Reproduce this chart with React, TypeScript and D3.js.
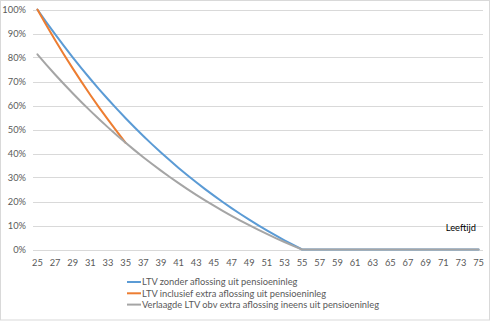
import React from "react";
import * as d3 from "d3";

const ages: number[] = d3.range(25, 76);
const yTicks = [0, 0.1, 0.2, 0.3, 0.4, 0.5, 0.6, 0.7, 0.8, 0.9, 1.0];

// LTV zonder aflossing uit pensioeninleg (ages 25..55, then 0)
const blueValues = [
  1.0, 0.9477, 0.8971, 0.8481, 0.8007, 0.7548, 0.7104, 0.6674, 0.6259, 0.5857,
  0.5469, 0.5094, 0.4731, 0.4381, 0.4042, 0.3715, 0.3399, 0.3095, 0.2801, 0.2517,
  0.2243, 0.1979, 0.1725, 0.148, 0.1243, 0.1016, 0.0797, 0.0586, 0.0383, 0.0188,
  0, 0, 0, 0, 0, 0, 0, 0, 0, 0, 0, 0, 0, 0, 0, 0, 0, 0, 0, 0, 0,
];
// LTV inclusief extra aflossing uit pensioeninleg (ages 25..35)
const orangeValues = [
  1.0, 0.9355, 0.8731, 0.8128, 0.7546, 0.6983, 0.6439, 0.5914, 0.5408, 0.4918, 0.4446,
];
// Verlaagde LTV obv extra aflossing ineens uit pensioeninleg
const grayValues = [
  0.813, 0.7705, 0.7293, 0.6895, 0.651, 0.6137, 0.5776, 0.5426, 0.5089, 0.4762,
  0.4446, 0.4141, 0.3846, 0.3562, 0.3286, 0.302, 0.2763, 0.2516, 0.2277, 0.2046,
  0.1824, 0.1609, 0.1402, 0.1203, 0.1011, 0.0826, 0.0648, 0.0476, 0.0311, 0.0153,
  0, 0, 0, 0, 0, 0, 0, 0, 0, 0, 0, 0, 0, 0, 0, 0, 0, 0, 0, 0, 0,
];

const seriesNames = [
  "LTV zonder aflossing uit pensioeninleg",
  "LTV inclusief extra aflossing uit pensioeninleg",
  "Verlaagde LTV obv extra aflossing ineens uit pensioeninleg",
];
const colors = ["#5B9BD5", "#ED7D31", "#A5A5A5"];

const W = 491;
const H = 321;
const FONT = "Lato, 'Open Sans', sans-serif";

export default function App() {
  const x = d3.scaleBand<number>().domain(ages).range([33, 483]);
  const cx = (a: number) => (x(a) as number) + x.bandwidth() / 2;
  const y = d3.scaleLinear().domain([0, 1]).range([249.5, 9.5]);

  const line = d3
    .line<number>()
    .x((_, i) => cx(ages[i]))
    .y((d) => y(d));

  const series = [blueValues, orangeValues, grayValues];

  return (
    <svg
      width={W}
      height={H}
      style={{ position: "absolute", left: 0, top: 0, background: "#fff" }}
      fontFamily={FONT}
    >
      <rect x={0.5} y={0.5} width={489} height={319.5} fill="#fff" stroke="#d9d9d9" />
      {yTicks.map((t) => (
        <g key={t}>
          <line x1={33} x2={483} y1={Math.round(y(t)) + 0.5} y2={Math.round(y(t)) + 0.5} stroke="#d9d9d9" strokeWidth={1} />
          <text x={26} y={y(t) + 3.3} textAnchor="end" fontSize={9.3} fill="#595959">
            {d3.format(".0%")(t)}
          </text>
        </g>
      ))}
      {ages
        .filter((a) => (a - 25) % 2 === 0)
        .map((a) => (
          <text key={a} x={cx(a)} y={265.5} textAnchor="middle" fontSize={9.3} fill="#595959">
            {a}
          </text>
        ))}
      {series.map((s, i) => (
        <path key={i} d={line(s) || ""} fill="none" stroke={colors[i]} strokeWidth={2} strokeLinejoin="round" strokeLinecap="round" />
      ))}
      <text x={476} y={230.5} textAnchor="end" fontSize={9.3} fill="#000">
        Leeftijd
      </text>
      {seriesNames.map((n, i) => {
        const ly = 282 + i * 11.3;
        return (
          <g key={n}>
            <line x1={127} x2={141} y1={ly} y2={ly} stroke={colors[i]} strokeWidth={2} />
            <text x={142} y={ly + 3.3} fontSize={9.3} fill="#595959">
              {n}
            </text>
          </g>
        );
      })}
    </svg>
  );
}
